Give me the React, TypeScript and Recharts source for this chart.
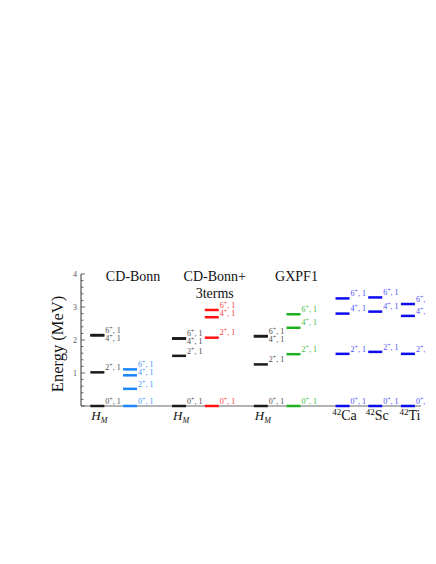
import React from "react";
import { ComposedChart, Scatter, XAxis, YAxis } from "recharts";

// spin labels of the levels (J^pi, T)
const spins = ["0", "2", "4", "6"];

// level energies (MeV) for 0+, 2+, 4+, 6+
const hmCDBonn = [0, 1.02, 2.14, 2.15];
const cdBonn = [0, 0.52, 0.93, 1.11];
const hm3terms = [0, 1.52, 2.04, 2.05];
const cdBonn3terms = [0, 2.07, 2.69, 2.91];
const hmGXPF1 = [0, 1.26, 2.11, 2.12];
const gxpf1 = [0, 1.57, 2.37, 2.78];
const exp42Ca = [0, 1.58, 2.8, 3.26];
const exp42Sc = [0, 1.64, 2.86, 3.29];
const exp42Ti = [0, 1.58, 2.73, 3.09];

// category slots of the columns on the x axis
const columnSlots = [0, 2, 5, 7, 10, 12, 15, 17, 19];
const titleSlots = [2, 7, 12];
const titles = [["CD-Bonn"], ["CD-Bonn+", "3terms"], ["GXPF1"]];
const xTickSlots = [0, 5, 10, 15, 17, 19];
const xTickLabels = ["H_M", "H_M", "H_M", "42Ca", "42Sc", "42Ti"];
const yTicks = [
  0, 0.2, 0.4, 0.6, 0.8, 1, 1.2, 1.4, 1.6, 1.8, 2, 2.2, 2.4, 2.6, 2.8, 3, 3.2,
  3.4, 3.6, 3.8, 4,
];

const columns = [hmCDBonn, cdBonn, hm3terms, cdBonn3terms, hmGXPF1, gxpf1, exp42Ca, exp42Sc, exp42Ti];

const BLACK = { line: "#1a1a1a", text: "#4a4a4a" };
const LBLUE = { line: "#1c86ff", text: "#3f94ff" };
const RED = { line: "#ff1414", text: "#ff3a3a" };
const GREEN = { line: "#1eb01e", text: "#3cbd3c" };
const DBLUE = { line: "#0b0bee", text: "#4d4dff" };
const columnStyles = [BLACK, LBLUE, BLACK, RED, BLACK, GREEN, DBLUE, DBLUE, DBLUE];

const FONT = "'Liberation Serif', 'Times New Roman', serif";
const PX_PER_MEV = 33;
const LIFT = 2.3 / PX_PER_MEV;
const GAP = 8 / PX_PER_MEV;

const levelData = columns.map((energies, c) =>
  energies.map((e, j) => ({ x: columnSlots[c], y: e, spin: spins[j] }))
);

const labelData = columns.map((energies, c) => {
  const order = energies.map((_, i) => i).sort((a, b) => energies[b] - energies[a]);
  let prev = Infinity;
  const out: { x: number; y: number; spin: string }[] = [];
  order.forEach((i) => {
    const ly = Math.min(energies[i] + LIFT, prev - GAP);
    prev = ly;
    out.push({ x: columnSlots[c], y: ly, spin: spins[i] });
  });
  return out;
});

const levelShape = (color: string) => (props: any) => {
  const { cx, cy } = props;
  return <line x1={cx - 7} x2={cx + 7} y1={cy} y2={cy} stroke={color} strokeWidth={2.5} />;
};

const labelShape = (color: string) => (props: any) => {
  const { cx, cy, payload } = props;
  return (
    <text x={cx + 8} y={cy} fontSize={8} fill={color} fontFamily={FONT}>
      {payload.spin}
      <tspan dy={-3} fontSize={6}>+</tspan>
      <tspan dy={3}>, 1</tspan>
    </text>
  );
};

const YTick = (props: any) => {
  const { x, y, payload } = props;
  const v = payload.value;
  const major = Math.abs(v - Math.round(v)) < 1e-6;
  return (
    <g>
      <line x1={x} x2={x + (major ? 4 : 2.5)} y1={y} y2={y} stroke="#444" strokeWidth={0.8} />
      {major && v > 0 && (
        <text x={x - 4} y={y} dy={3} textAnchor="end" fontSize={8} fill="#555" fontFamily={FONT}>
          {Math.round(v)}
        </text>
      )}
    </g>
  );
};

const TitleTick = (props: any) => {
  const { x, y, payload } = props;
  const lines = titles[titleSlots.indexOf(payload.value)] || [];
  return (
    <text x={x + 3} y={y + 7} textAnchor="middle" fontSize={14} fill="#111" fontFamily={FONT}>
      {lines.map((l, i) => (
        <tspan key={i} x={x + 3} dy={i === 0 ? 0 : 16.5}>
          {l}
        </tspan>
      ))}
    </text>
  );
};

const XTick = (props: any) => {
  const { x, y, payload } = props;
  const label = xTickLabels[xTickSlots.indexOf(payload.value)] || "";
  if (label.includes("_")) {
    const [b, s] = label.split("_");
    return (
      <text x={x + 2} y={y + 14} textAnchor="middle" fontStyle="italic" fontSize={13} fill="#111" fontFamily={FONT}>
        {b}
        <tspan fontSize={8} dy={3}>{s}</tspan>
      </text>
    );
  }
  const m = label.match(/^(\d+)(.*)$/) || ["", "", label];
  return (
    <text x={x + 2} y={y + 14} textAnchor="middle" fontSize={14} fill="#111" fontFamily={FONT}>
      <tspan fontSize={9} dy={-5}>{m[1]}</tspan>
      <tspan dy={5}>{m[2]}</tspan>
    </text>
  );
};

const YTitle = (props: any) => {
  const vb = props.viewBox || {};
  const X = vb.x + 12;
  const Y = vb.y + vb.height / 2 + 4;
  return (
    <text x={X} y={Y} transform={`rotate(-90, ${X}, ${Y})`} textAnchor="middle" fontSize={16.5} fill="#111" fontFamily={FONT}>
      Energy (MeV)
    </text>
  );
};

export default function App() {
  return (
    <ComposedChart width={428} height={548} margin={{ top: 236, right: 15, bottom: 120, left: 43 }}>
      <XAxis
        xAxisId="bottom"
        dataKey="x"
        type="number"
        domain={[-1, 19.8]}
        ticks={xTickSlots}
        interval={0}
        tick={<XTick />}
        tickLine={false}
        tickSize={0}
        tickMargin={0}
        height={30}
        axisLine={{ stroke: "#666", strokeWidth: 1 }}
      />
      <XAxis
        xAxisId="top"
        orientation="top"
        dataKey="x"
        type="number"
        domain={[-1, 19.8]}
        ticks={titleSlots}
        interval={0}
        tick={<TitleTick />}
        tickLine={false}
        tickSize={0}
        tickMargin={0}
        height={30}
        axisLine={false}
      />
      <YAxis
        dataKey="y"
        type="number"
        domain={[0, 4]}
        ticks={yTicks}
        interval={0}
        tick={<YTick />}
        tickLine={false}
        tickSize={0}
        tickMargin={0}
        width={30}
        axisLine={{ stroke: "#333", strokeWidth: 1 }}
        label={<YTitle />}
      />
      {levelData.map((d, c) => (
        <Scatter
          key={`lv${c}`}
          xAxisId="bottom"
          data={d}
          shape={levelShape(columnStyles[c].line)}
          isAnimationActive={false}
        />
      ))}
      {labelData.map((d, c) => (
        <Scatter
          key={`lb${c}`}
          xAxisId="top"
          data={d}
          shape={labelShape(columnStyles[c].text)}
          isAnimationActive={false}
        />
      ))}
    </ComposedChart>
  );
}
